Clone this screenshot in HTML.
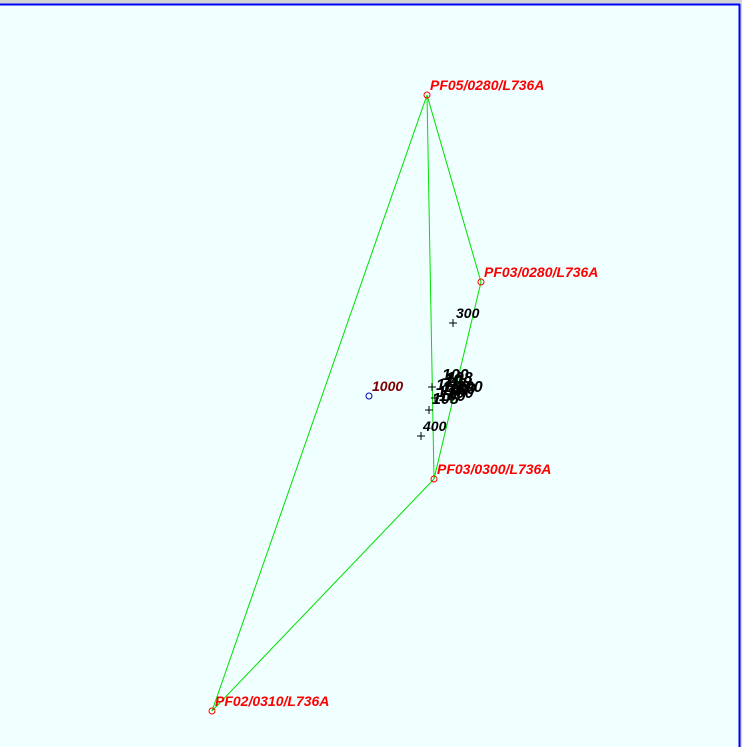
<!DOCTYPE html>
<html><head><meta charset="utf-8"><style>
html,body{margin:0;padding:0;background:#d4d4d4;}
svg{display:block;}
text{font-family:"Liberation Sans",sans-serif;font-weight:bold;font-style:italic;font-size:14px;}
.c text{font-size:16px;}
</style></head><body>
<svg width="742" height="747" xmlns="http://www.w3.org/2000/svg">
<rect x="0" y="0" width="742" height="747" fill="#d4d4d4"/>
<rect x="0" y="4" width="739" height="743" fill="#f0ffff"/>
<line x1="0" y1="4.5" x2="740" y2="4.5" stroke="#0000ff" stroke-width="2"/>
<line x1="739.5" y1="4" x2="739.5" y2="747" stroke="#0000ff" stroke-width="2"/>
<g stroke="#00e000" stroke-width="1" fill="none">
<line x1="427" y1="95" x2="212" y2="711"/>
<line x1="427" y1="95" x2="481" y2="282"/>
<line x1="427" y1="95" x2="434" y2="479"/>
<line x1="481" y1="282" x2="434" y2="479"/>
<line x1="434" y1="479" x2="212" y2="711"/>
</g>
<g stroke="#ff0000" fill="none">
<circle cx="427" cy="95" r="3"/>
<circle cx="481" cy="282" r="3"/>
<circle cx="434" cy="479" r="3"/>
<circle cx="212" cy="711" r="3"/>
</g>
<circle cx="369" cy="396" r="3" stroke="#0000a0" fill="none"/>
<g stroke="#000" stroke-width="1">
<path d="M449 323h8M453 319v8"/>
<path d="M417 436h8M421 432v8"/>
<path d="M425 410h8M429 406v8"/>
<path d="M428 387h8M432 383v8"/>
<path d="M431 398h8M435 394v8"/>
</g>
<g fill="#ff0000">
<text x="430" y="90">PF05/0280/L736A</text>
<text x="484" y="277">PF03/0280/L736A</text>
<text x="437" y="474">PF03/0300/L736A</text>
<text x="215" y="706">PF02/0310/L736A</text>
</g>
<text x="372" y="391" fill="#800000">1000</text>
<text x="456" y="318" fill="#000">300</text>
<text x="423" y="431" fill="#000">400</text>
<g fill="#000" class="c">
<text x="442" y="380">100</text>
<text x="446" y="383">108</text>
<text x="436" y="390">1</text>
<text x="456" y="392">200</text>
<text x="441" y="395">100</text>
<text x="447" y="398">100</text>
<text x="432" y="404">105</text>
<text x="445" y="387">100</text>
<text x="439" y="401">100</text>
<text x="450" y="389">1</text>
<text x="443" y="392">108</text>
<text x="449" y="394">100</text>
<text x="444" y="385">10</text>
<text x="437" y="397">1</text>
</g>
</svg>
</body></html>
